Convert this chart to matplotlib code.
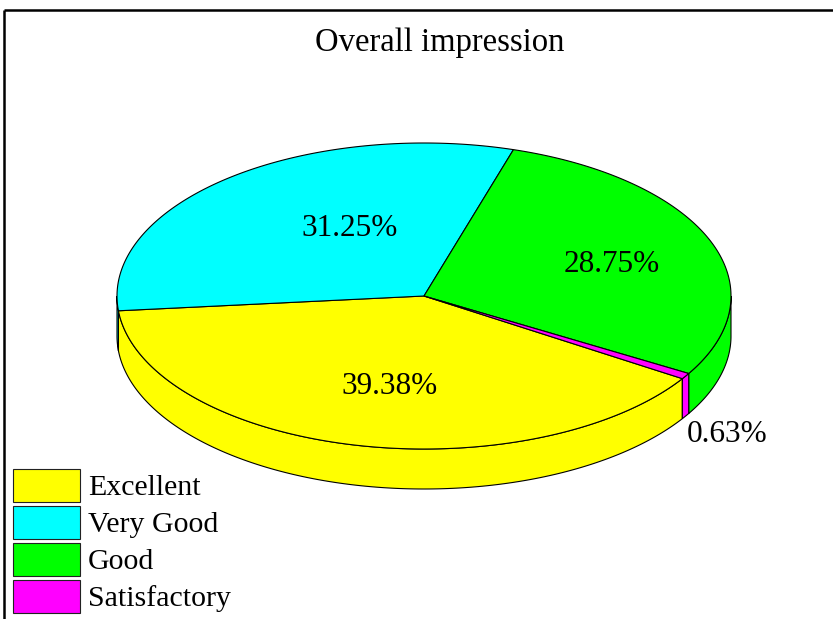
import matplotlib as mpl
mpl.use('Agg')
import matplotlib.pyplot as plt
import numpy as np

categorie = ['Excellent', 'Very Good', 'Good', 'Satisfactory']
valori = [39.38, 31.25, 28.75, 0.63]
etichette = ['39.38%', '31.25%', '28.75%', '0.63%']
colori = ['#ffff00', '#00ffff', '#00ff00', '#ff00ff']
titolo = 'Overall impression'

plt.rcParams['font.family'] = ['Liberation Serif', 'DejaVu Serif']

fig = plt.figure(figsize=(8.33, 6.19), dpi=100)
ax = fig.add_axes([0, 0, 1, 1])
ax.set_xlim(0, 833)
ax.set_ylim(619, 0)
ax.axis('off')

# geometria della torta (pixel)
cx, cy = 424, 296
rx, ry = 307, 153
prof = 40
inizio = 327.3  # gradi, verso orario

tot = sum(valori)
cum = np.concatenate([[0], np.cumsum(valori)]) / tot * 360
angoli = [(inizio - cum[i + 1], inizio - cum[i]) for i in range(len(valori))]


def punti(t1, t2, dy=0, n=200):
    t = np.radians(np.linspace(t1, t2, n))
    return cx + rx * np.cos(t), cy - ry * np.sin(t) + dy


# pareti laterali (solo la metà davanti)
for (a, b), c in zip(angoli, colori):
    for off in (-360, 0, 360):
        lo = max(a + off, 180)
        hi = min(b + off, 360)
        if hi > lo:
            x1, y1 = punti(lo, hi)
            x2, y2 = punti(hi, lo, prof)
            ax.fill(np.concatenate([x1, x2]), np.concatenate([y1, y2]),
                    facecolor=c, edgecolor='black', lw=0.8, zorder=2)

# facce superiori
for (a, b), c in zip(angoli, colori):
    x, y = punti(a, b)
    ax.fill(np.concatenate([[cx], x]), np.concatenate([[cy], y]),
            facecolor=c, edgecolor='black', lw=0.8, zorder=3)

# etichette
pos_etichette = [(390, 386), (350, 228), (612, 265), (727, 435)]
for (x, y), s in zip(pos_etichette, etichette):
    ax.text(x, y, s, fontsize=22.5, ha='center', va='center', zorder=5)

ax.text(440, 43, titolo, fontsize=23.5, ha='center', va='center')

# legenda
for i, (nome, c) in enumerate(zip(categorie, colori)):
    y0 = 469 + i * 37
    ax.add_patch(plt.Rectangle((13, y0), 67, 33, facecolor=c,
                               edgecolor='#222222', lw=0.8, zorder=4))
    ax.text(88, y0 + 19, nome, fontsize=21.5, ha='left', va='center')

# cornice
ax.plot([4.5, 833], [9.8, 9.8], color='black', lw=1.8, solid_capstyle='butt')
ax.plot([4.5, 4.5], [9.8, 619], color='black', lw=1.8, solid_capstyle='butt')

fig.savefig('out.png', dpi=100)
